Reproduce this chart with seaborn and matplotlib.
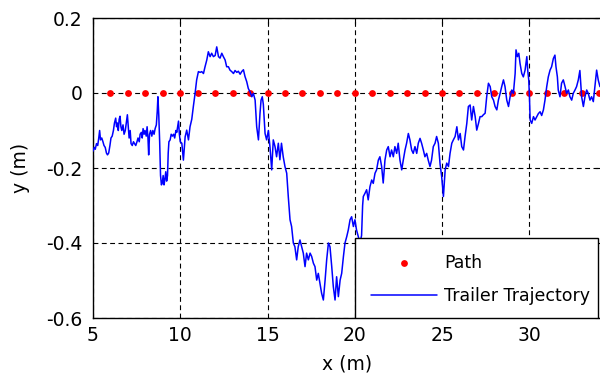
import matplotlib
matplotlib.use("Agg")
import matplotlib.pyplot as plt
import seaborn as sns
import pandas as pd
from matplotlib.patches import Rectangle

# reference path: points on y = 0
path_x = [6, 7, 8, 9, 10, 11, 12, 13, 14, 15, 16, 17, 18, 19, 20,
          21, 22, 23, 24, 25, 26, 27, 28, 29, 30, 31, 32, 33, 34]
path_y = [0] * len(path_x)

# trailer trajectory in pieces
seg_a_x = [5.0, 5.07, 5.13, 5.2, 5.27, 5.33, 5.38, 5.43, 5.5, 5.57,
           5.63, 5.7, 5.77, 5.83, 5.9, 5.97, 6.03, 6.1, 6.17, 6.23,
           6.3, 6.35, 6.4, 6.45, 6.5, 6.55, 6.6, 6.65, 6.72, 6.78,
           6.85, 6.92, 6.97, 7.02, 7.07, 7.13, 7.18, 7.25, 7.32, 7.38,
           7.45, 7.52, 7.58, 7.65, 7.7, 7.77, 7.82, 7.87, 7.93, 7.98,
           8.05, 8.1, 8.15, 8.19, 8.24, 8.3, 8.37, 8.43, 8.5, 8.56,
           8.63, 8.68, 8.72, 8.77, 8.82, 8.87, 8.92, 8.97, 9.02, 9.07,
           9.12, 9.17, 9.22, 9.27, 9.31, 9.35, 9.42, 9.48, 9.55, 9.62,
           9.68, 9.75, 9.8, 9.85, 9.9, 9.95]
seg_a_y = [-0.155, -0.145, -0.15, -0.135, -0.14, -0.12, -0.1, -0.125, -0.12, -0.13,
           -0.14, -0.145, -0.16, -0.165, -0.16, -0.14, -0.12, -0.115, -0.1, -0.08,
           -0.067, -0.09, -0.08, -0.1, -0.07, -0.062, -0.09, -0.1, -0.085, -0.11,
           -0.1, -0.075, -0.058, -0.09, -0.12, -0.1, -0.135, -0.14, -0.13, -0.135,
           -0.14, -0.13, -0.12, -0.13, -0.11, -0.105, -0.12, -0.095, -0.11, -0.1,
           -0.115, -0.09, -0.12, -0.165, -0.11, -0.1, -0.115, -0.1, -0.11, -0.095,
           -0.085, -0.05, -0.01, -0.06, -0.13, -0.22, -0.245, -0.24, -0.22, -0.245,
           -0.23, -0.21, -0.235, -0.22, -0.16, -0.13, -0.125, -0.11, -0.115, -0.11,
           -0.12, -0.1, -0.105, -0.09, -0.075, -0.11]

seg_b_x = [10.0, 10.09, 10.18, 10.28, 10.37, 10.47, 10.56, 10.66, 10.75, 10.85,
           10.94, 11.04, 11.14, 11.23, 11.33, 11.42, 11.52, 11.61, 11.71, 11.8,
           11.9, 12.0, 12.09, 12.19, 12.28, 12.38, 12.47, 12.57, 12.66, 12.76,
           12.85, 12.95, 13.05, 13.14, 13.24, 13.33, 13.43, 13.52, 13.62, 13.71,
           13.81, 13.9, 14.0, 14.1, 14.19, 14.29, 14.38, 14.48, 14.57, 14.63,
           14.7, 14.76, 14.86, 14.95]
seg_b_y = [-0.13, -0.134, -0.179, -0.117, -0.099, -0.125, -0.09, -0.07, -0.036, -0.001,
           0.035, 0.057, 0.055, 0.057, 0.052, 0.07, 0.088, 0.11, 0.097, 0.106,
           0.097, 0.1, 0.123, 0.097, 0.093, 0.106, 0.097, 0.088, 0.07, 0.07,
           0.061, 0.057, 0.052, 0.06, 0.055, 0.058, 0.05, 0.057, 0.062, 0.044,
           0.03, 0.012, 0.003, -0.01, -0.001, -0.019, -0.09, -0.125, -0.054, -0.019,
           -0.01, -0.03, -0.108, -0.125]

seg_c_x = [15.05, 15.14, 15.24, 15.33, 15.43, 15.52, 15.62, 15.71, 15.8, 15.9,
           16.0, 16.1, 16.19, 16.29, 16.38, 16.48, 16.57, 16.67, 16.76, 16.86,
           16.96, 17.05, 17.15, 17.24, 17.34, 17.44, 17.53, 17.63, 17.72, 17.82,
           17.91, 18.01, 18.1, 18.2, 18.3, 18.39, 18.49, 18.58, 18.68, 18.77,
           18.87, 18.96, 19.06, 19.16, 19.25, 19.35, 19.44, 19.54, 19.63, 19.73,
           19.82, 19.92]
seg_c_y = [-0.1, -0.143, -0.205, -0.125, -0.143, -0.17, -0.134, -0.178, -0.134, -0.17,
           -0.196, -0.214, -0.276, -0.338, -0.356, -0.4, -0.41, -0.445, -0.41, -0.392,
           -0.41, -0.427, -0.463, -0.427, -0.445, -0.427, -0.436, -0.454, -0.463, -0.499,
           -0.481, -0.508, -0.534, -0.552, -0.499, -0.445, -0.4, -0.41, -0.463, -0.516,
           -0.552, -0.49, -0.543, -0.499, -0.481, -0.436, -0.4, -0.383, -0.365, -0.338,
           -0.33, -0.356]

seg_d_x = [20.01, 20.1, 20.2, 20.3, 20.39, 20.45, 20.49, 20.58, 20.68, 20.77,
           20.87, 20.97, 21.06, 21.16, 21.25, 21.35, 21.44, 21.54, 21.63, 21.73,
           21.83, 21.92, 22.02, 22.11, 22.21, 22.3, 22.4, 22.49, 22.59, 22.69,
           22.78, 22.88, 22.97, 23.07, 23.16, 23.26, 23.35, 23.45, 23.55, 23.64,
           23.74, 23.83, 23.93, 24.02, 24.12, 24.21, 24.31, 24.4, 24.5, 24.6,
           24.69, 24.79, 24.89, 24.98]
seg_d_y = [-0.338, -0.365, -0.383, -0.4, -0.38, -0.3, -0.276, -0.268, -0.258, -0.285,
           -0.25, -0.232, -0.241, -0.214, -0.205, -0.179, -0.17, -0.196, -0.24, -0.179,
           -0.152, -0.143, -0.17, -0.152, -0.17, -0.143, -0.161, -0.134, -0.179, -0.205,
           -0.179, -0.152, -0.134, -0.108, -0.125, -0.152, -0.161, -0.143, -0.161, -0.134,
           -0.121, -0.134, -0.152, -0.17, -0.161, -0.179, -0.196, -0.179, -0.143, -0.134,
           -0.116, -0.134, -0.19, -0.223]

seg_e_x = [25.08, 25.18, 25.27, 25.37, 25.46, 25.56, 25.65, 25.75, 25.85, 25.94,
           26.04, 26.13, 26.23, 26.32, 26.42, 26.51, 26.61, 26.7, 26.8, 26.9,
           26.99, 27.09, 27.18, 27.28, 27.37, 27.47, 27.56, 27.66, 27.76, 27.85,
           27.95, 28.04, 28.14, 28.23, 28.33, 28.42, 28.52, 28.61, 28.71, 28.81,
           28.9, 29.0, 29.09, 29.19, 29.24, 29.32, 29.4, 29.47, 29.57, 29.66,
           29.76, 29.86, 29.91, 29.97]
seg_e_y = [-0.276, -0.205, -0.187, -0.196, -0.161, -0.134, -0.125, -0.116, -0.09, -0.125,
           -0.108, -0.143, -0.152, -0.116, -0.081, -0.036, -0.032, -0.072, -0.036, -0.063,
           -0.099, -0.081, -0.063, -0.063, -0.058, -0.054, -0.01, 0.026, 0.017, -0.01,
           -0.019, -0.036, -0.045, -0.019, -0.001, 0.017, 0.035, 0.017, -0.019, -0.036,
           -0.01, 0.008, -0.001, 0.052, 0.115, 0.097, 0.106, 0.079, 0.052, 0.043,
           0.061, 0.097, 0.061, 0.035]

seg_f_x = [30.01, 30.05, 30.14, 30.24, 30.33, 30.43, 30.52, 30.62, 30.71, 30.81,
           30.9, 31.0, 31.09, 31.19, 31.28, 31.38, 31.47, 31.53, 31.61, 31.66,
           31.76, 31.85, 31.95, 32.05, 32.14, 32.24, 32.33, 32.43, 32.52, 32.62,
           32.71, 32.81, 32.9, 33.0, 33.1, 33.19, 33.29, 33.38, 33.48, 33.57,
           33.67, 33.76, 33.86, 33.95, 34.05, 34.15]
seg_f_y = [-0.01, -0.072, -0.081, -0.063, -0.072, -0.063, -0.055, -0.05, -0.06, -0.045,
           -0.019, 0.017, 0.043, 0.061, 0.07, 0.092, 0.101, 0.07, 0.043, 0.008,
           -0.01, 0.026, 0.035, 0.017, -0.001, 0.008, -0.01, -0.019, -0.001, 0.008,
           0.017, 0.035, 0.06, -0.01, -0.036, -0.01, 0.008, -0.001, -0.019, -0.01,
           -0.023, 0.017, 0.061, 0.035, 0.017, 0.03]

x_ticks = [5, 10, 15, 20, 25, 30]
x_labels = ["5", "10", "15", "20", "25", "30"]
y_ticks = [-0.6, -0.4, -0.2, 0, 0.2]
y_labels = ["-0.6", "-0.4", "-0.2", "0", "0.2"]

traj = pd.DataFrame({
    "x": seg_a_x + seg_b_x + seg_c_x + seg_d_x + seg_e_x + seg_f_x,
    "y": seg_a_y + seg_b_y + seg_c_y + seg_d_y + seg_e_y + seg_f_y,
})
path = pd.DataFrame({"x": path_x, "y": path_y})

sns.set_style("white")
plt.rcParams["font.family"] = ["DejaVu Sans"]
plt.rcParams["lines.scale_dashes"] = False
plt.rcParams["text.color"] = "black"
plt.rcParams["axes.labelcolor"] = "black"
fs = 13.5

fig = plt.figure(figsize=(6, 3.79), dpi=100)
# axes runs a pixel past the right edge, like the cropped original
ax = fig.add_axes([93 / 600, 61 / 379, 508 / 600, 300 / 379])

sns.scatterplot(data=path, x="x", y="y", color="red", s=24, linewidth=0,
                label="Path", ax=ax, zorder=3)
sns.lineplot(data=traj, x="x", y="y", sort=False, estimator=None, color="blue",
             linewidth=1.1, label="Trailer Trajectory", ax=ax, zorder=4)

ax.set_xlim(5, 34.11)
ax.set_ylim(-0.6, 0.2)
ax.set_xticks(x_ticks)
ax.set_xticklabels(x_labels)
ax.set_yticks(y_ticks)
ax.set_yticklabels(y_labels)
ax.grid(True, color="black", linestyle=(0, (3.5, 2.5)), linewidth=0.8)
ax.set_axisbelow(True)
ax.tick_params(direction="in", length=4, width=0.8, top=True, right=True,
               labelsize=fs, colors="black")
ax.tick_params(axis="x", pad=6)
ax.tick_params(axis="y", pad=7.5)
for sp in ax.spines.values():
    sp.set_color("black")
    sp.set_linewidth(1)

ax.set_xlabel("x (m)", fontsize=fs, color="black")
ax.xaxis.set_label_coords(0.5, -0.123)
ax.set_ylabel("y (m)", fontsize=fs, color="black")
ax.yaxis.set_label_coords(-0.124, 0.5)

# legend box, drawn by hand so it can sit flush with the cropped right edge
leg_left, leg_right, leg_top = 20.03, 33.94, -0.387
ax.add_patch(Rectangle((leg_left, -0.6), leg_right - leg_left, leg_top + 0.6,
                       facecolor="white", edgecolor="black", linewidth=1, zorder=5))
handles, labels = ax.get_legend_handles_labels()
leg = ax.legend(handles, labels, loc="upper left", bbox_to_anchor=(leg_left, leg_top),
                bbox_transform=ax.transData, frameon=False, borderaxespad=0,
                borderpad=0.9, handlelength=3.8, handletextpad=0.4,
                labelspacing=0.9, fontsize=12.5, labelcolor="black")
leg.set_zorder(6)

fig.savefig("out.png", dpi=100)
